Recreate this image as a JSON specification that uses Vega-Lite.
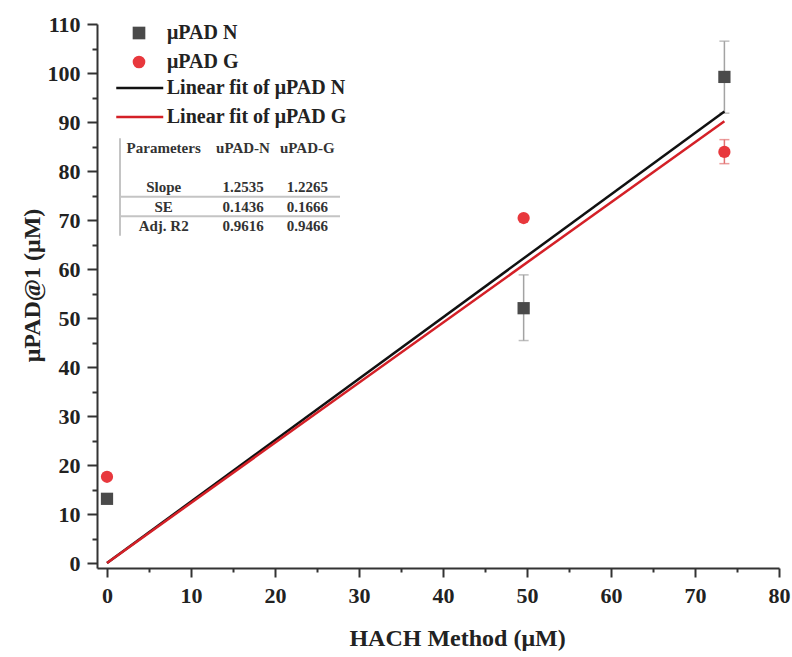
{
  "$schema": "https://vega.github.io/schema/vega-lite/v6.json",
  "width": 682,
  "height": 544,
  "autosize": {"type": "none"},
  "padding": {"left": 97, "top": 24, "right": 13, "bottom": 89},
  "background": "white",
  "config": {
    "view": {"stroke": null},
    "font": "Liberation Serif",
    "axis": {"grid": false}
  },
  "datasets": {
    "points": [
      {"series": "μPAD N", "hach": 0, "upad": 13.1},
      {"series": "μPAD N", "hach": 49.6, "upad": 52.0},
      {"series": "μPAD N", "hach": 73.5, "upad": 99.2},
      {"series": "μPAD G", "hach": 0, "upad": 17.6},
      {"series": "μPAD G", "hach": 49.6, "upad": 70.4},
      {"series": "μPAD G", "hach": 73.5, "upad": 83.9}
    ],
    "errors": [
      {"series": "μPAD N", "hach": 49.6, "lo": 45.4, "hi": 58.8},
      {"series": "μPAD N", "hach": 73.5, "lo": 91.8, "hi": 106.5},
      {"series": "μPAD G", "hach": 73.5, "lo": 81.5, "hi": 86.4}
    ],
    "fits": [
      {"fit": "Linear fit of μPAD N", "hach": 0, "upad": 0},
      {"fit": "Linear fit of μPAD N", "hach": 73.5, "upad": 92.13},
      {"fit": "Linear fit of μPAD G", "hach": 0, "upad": 0},
      {"fit": "Linear fit of μPAD G", "hach": 73.5, "upad": 90.15}
    ],
    "stats": [
      {"row": "Parameters", "col": "Parameters", "text": "Parameters"},
      {"row": "Parameters", "col": "uPAD-N", "text": "uPAD-N"},
      {"row": "Parameters", "col": "uPAD-G", "text": "uPAD-G"},
      {"row": "Slope", "col": "Parameters", "text": "Slope"},
      {"row": "Slope", "col": "uPAD-N", "text": "1.2535"},
      {"row": "Slope", "col": "uPAD-G", "text": "1.2265"},
      {"row": "SE", "col": "Parameters", "text": "SE"},
      {"row": "SE", "col": "uPAD-N", "text": "0.1436"},
      {"row": "SE", "col": "uPAD-G", "text": "0.1666"},
      {"row": "Adj. R2", "col": "Parameters", "text": "Adj. R2"},
      {"row": "Adj. R2", "col": "uPAD-N", "text": "0.9616"},
      {"row": "Adj. R2", "col": "uPAD-G", "text": "0.9466"}
    ],
    "rowLines": [
      {"row": "Slope", "from": "Parameters", "to": "uPAD-G"},
      {"row": "SE", "from": "Parameters", "to": "uPAD-G"}
    ],
    "edgeLine": [
      {"col": "Parameters", "top": "Parameters", "bottom": "Adj. R2"}
    ]
  },
  "layer": [
    {
      "encoding": {
        "x": {
          "field": "hach",
          "type": "quantitative",
          "scale": {"domain": [-1.19, 80], "nice": false, "zero": false},
          "axis": {
            "values": [0, 5, 10, 15, 20, 25, 30, 35, 40, 45, 50, 55, 60, 65, 70, 75, 80],
            "labelExpr": "datum.value % 10 === 0 ? datum.label : ''",
            "tickSize": {"condition": {"test": "datum.value % 10 === 0", "value": 9}, "value": 4},
            "domainColor": "#333333",
            "domainWidth": 2,
            "tickColor": "#333333",
            "tickWidth": 2,
            "labelFont": "Liberation Serif",
            "labelFontWeight": "bold",
            "labelFontSize": 22,
            "labelColor": "#222222",
            "labelPadding": 8,
            "labelFlush": false,
            "labelOverlap": false,
            "title": "HACH Method (μM)",
            "titleFont": "Liberation Serif",
            "titleFontWeight": "bold",
            "titleFontSize": 24,
            "titleColor": "#222222",
            "titleAlign": "center",
            "titleBaseline": "top",
            "titleX": 360,
            "titleY": 58
          }
        },
        "y": {
          "field": "upad",
          "type": "quantitative",
          "scale": {"domain": [-1.02, 110], "nice": false, "zero": false},
          "axis": {
            "values": [0, 5, 10, 15, 20, 25, 30, 35, 40, 45, 50, 55, 60, 65, 70, 75, 80, 85, 90, 95, 100, 105, 110],
            "labelExpr": "datum.value % 10 === 0 ? datum.label : ''",
            "tickSize": {"condition": {"test": "datum.value % 10 === 0", "value": 10}, "value": 5},
            "domainColor": "#333333",
            "domainWidth": 2,
            "tickColor": "#333333",
            "tickWidth": 2,
            "labelFont": "Liberation Serif",
            "labelFontWeight": "bold",
            "labelFontSize": 22,
            "labelColor": "#222222",
            "labelPadding": 7,
            "labelFlush": false,
            "labelOverlap": false,
            "title": "μPAD@1 (μM)",
            "titleFont": "Liberation Serif",
            "titleFontWeight": "bold",
            "titleFontSize": 24,
            "titleColor": "#222222",
            "titleAngle": -90,
            "titleAlign": "center",
            "titleBaseline": "middle",
            "titleX": -64.5,
            "titleY": 261
          }
        }
      },
      "layer": [
        {
          "data": {"name": "errors"},
          "transform": [{"filter": "datum.series === 'μPAD N'"}],
          "mark": {"type": "rule", "strokeWidth": 1.5, "color": "#a3a3a3"},
          "encoding": {
            "y": {"field": "lo", "type": "quantitative"},
            "y2": {"field": "hi"}
          }
        },
        {
          "data": {"name": "errors"},
          "transform": [
            {"filter": "datum.series === 'μPAD N'"},
            {"fold": ["lo", "hi"], "as": ["end", "upad"]}
          ],
          "mark": {"type": "tick", "orient": "horizontal", "size": 10, "thickness": 1.5, "color": "#a3a3a3"},
          "encoding": {
            "y": {"field": "upad", "type": "quantitative"}
          }
        },
        {
          "data": {"name": "errors"},
          "transform": [{"filter": "datum.series === 'μPAD G'"}],
          "mark": {"type": "rule", "strokeWidth": 1.5, "color": "#e27070"},
          "encoding": {
            "y": {"field": "lo", "type": "quantitative"},
            "y2": {"field": "hi"}
          }
        },
        {
          "data": {"name": "errors"},
          "transform": [
            {"filter": "datum.series === 'μPAD G'"},
            {"fold": ["lo", "hi"], "as": ["end", "upad"]}
          ],
          "mark": {"type": "tick", "orient": "horizontal", "size": 10, "thickness": 1.5, "color": "#e27070"},
          "encoding": {
            "y": {"field": "upad", "type": "quantitative"}
          }
        },
        {
          "data": {"name": "fits"},
          "transform": [{"filter": "datum.fit === 'Linear fit of μPAD N'"}],
          "mark": {"type": "line", "strokeWidth": 2.5},
          "encoding": {
            "stroke": {
              "field": "fit",
              "type": "nominal",
              "scale": {
                "domain": ["Linear fit of μPAD N", "Linear fit of μPAD G"],
                "range": ["#111111", "#d42027"]
              },
              "legend": {
                "orient": "none",
                "legendX": 29.75,
                "legendY": 51,
                "title": null,
                "padding": 0,
                "symbolType": "M-2,0H2",
                "symbolSize": 552,
                "symbolStrokeWidth": 2.5,
                "labelFont": "Liberation Serif",
                "labelFontWeight": "bold",
                "labelFontSize": 20,
                "labelColor": "#222222",
                "labelLimit": 400,
                "labelOffset": 14,
                "rowPadding": 6
              }
            }
          }
        },
        {
          "data": {"name": "fits"},
          "transform": [{"filter": "datum.fit === 'Linear fit of μPAD G'"}],
          "mark": {"type": "line", "strokeWidth": 2.5},
          "encoding": {
            "stroke": {"field": "fit", "type": "nominal"}
          }
        },
        {
          "data": {"name": "points"},
          "mark": {"type": "point", "filled": true, "size": 150, "opacity": 1, "strokeWidth": 0},
          "encoding": {
            "fill": {
              "field": "series",
              "type": "nominal",
              "scale": {"domain": ["μPAD N", "μPAD G"], "range": ["#4a4a4a", "#e8383d"]},
              "legend": {
                "orient": "none",
                "legendX": 32,
                "legendY": -1,
                "title": null,
                "padding": 0,
                "symbolSize": 160,
                "symbolStrokeWidth": 0,
                "labelFont": "Liberation Serif",
                "labelFontWeight": "bold",
                "labelFontSize": 20,
                "labelColor": "#222222",
                "labelLimit": 400,
                "labelOffset": 18,
                "rowPadding": 9
              }
            },
            "shape": {
              "field": "series",
              "type": "nominal",
              "scale": {"domain": ["μPAD N", "μPAD G"], "range": ["square", "circle"]}
            }
          }
        }
      ]
    },
    {
      "encoding": {
        "x": {
          "type": "nominal",
          "scale": {
            "type": "band",
            "domain": ["Parameters", "uPAD-N", "uPAD-G"],
            "range": [23, 243],
            "paddingInner": 0,
            "paddingOuter": 0
          },
          "axis": null
        },
        "y": {
          "type": "nominal",
          "scale": {
            "type": "band",
            "domain": ["Parameters", "units", "Slope", "SE", "Adj. R2"],
            "range": [114.25, 211.75],
            "paddingInner": 0,
            "paddingOuter": 0
          },
          "axis": null
        }
      },
      "layer": [
        {
          "data": {"name": "rowLines"},
          "mark": {"type": "rule", "color": "#c4c4c4", "strokeWidth": 2},
          "encoding": {
            "x": {"field": "from", "type": "nominal", "bandPosition": 0},
            "x2": {"field": "to", "bandPosition": 1},
            "y": {"field": "row", "type": "nominal", "bandPosition": 1}
          }
        },
        {
          "data": {"name": "edgeLine"},
          "mark": {"type": "rule", "color": "#c4c4c4", "strokeWidth": 2},
          "encoding": {
            "x": {"field": "col", "type": "nominal", "bandPosition": 0},
            "y": {"field": "top", "type": "nominal", "bandPosition": 0},
            "y2": {"field": "bottom", "bandPosition": 1}
          }
        },
        {
          "data": {"name": "stats"},
          "transform": [{"filter": "datum.col === 'Parameters'"}],
          "mark": {"type": "text", "font": "Liberation Serif", "fontWeight": "bold", "fontSize": 15, "color": "#333333", "align": "center", "baseline": "middle", "dx": 7},
          "encoding": {
            "x": {"field": "col", "type": "nominal", "bandPosition": 0.5},
            "y": {"field": "row", "type": "nominal", "bandPosition": 0.5},
            "text": {"field": "text"}
          }
        },
        {
          "data": {"name": "stats"},
          "transform": [{"filter": "datum.col === 'uPAD-N'"}],
          "mark": {"type": "text", "font": "Liberation Serif", "fontWeight": "bold", "fontSize": 15, "color": "#333333", "align": "center", "baseline": "middle", "dx": 13},
          "encoding": {
            "x": {"field": "col", "type": "nominal", "bandPosition": 0.5},
            "y": {"field": "row", "type": "nominal", "bandPosition": 0.5},
            "text": {"field": "text"}
          }
        },
        {
          "data": {"name": "stats"},
          "transform": [{"filter": "datum.col === 'uPAD-G'"}],
          "mark": {"type": "text", "font": "Liberation Serif", "fontWeight": "bold", "fontSize": 15, "color": "#333333", "align": "center", "baseline": "middle", "dx": 4},
          "encoding": {
            "x": {"field": "col", "type": "nominal", "bandPosition": 0.5},
            "y": {"field": "row", "type": "nominal", "bandPosition": 0.5},
            "text": {"field": "text"}
          }
        }
      ]
    }
  ],
  "resolve": {"scale": {"x": "independent", "y": "independent"}}
}
